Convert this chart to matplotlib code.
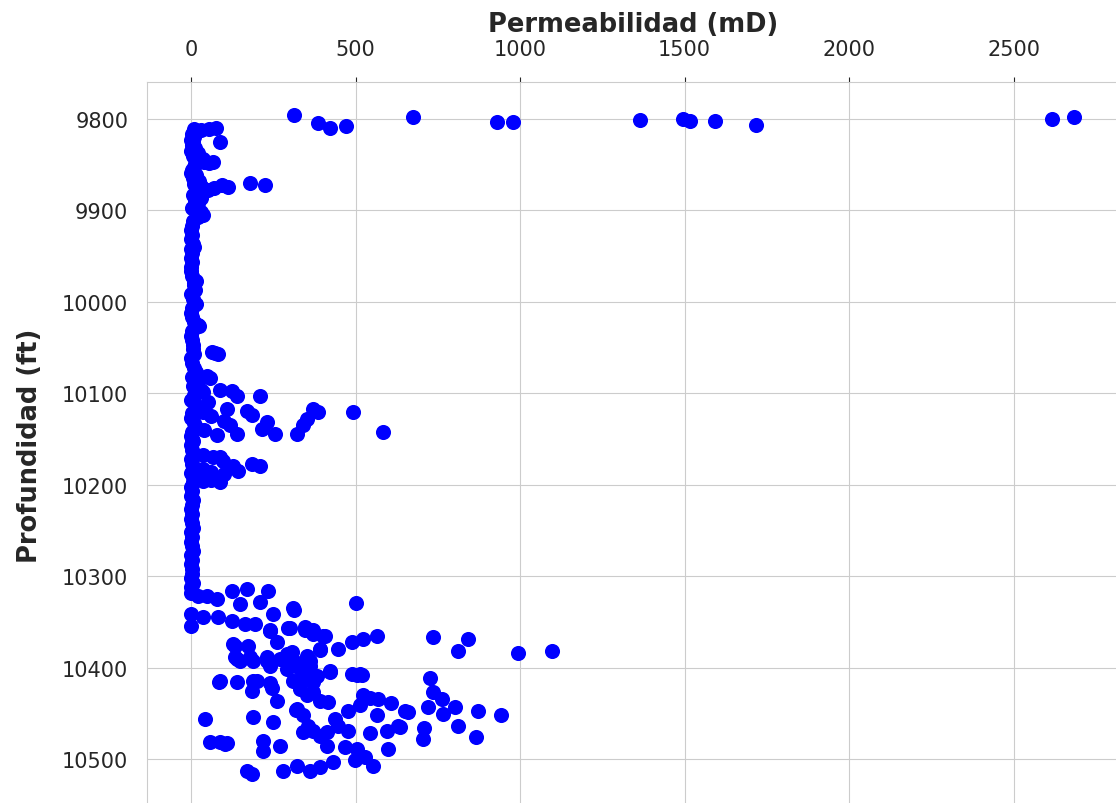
import numpy as np
import matplotlib
matplotlib.use("Agg")
import matplotlib.pyplot as plt
import seaborn as sns

# (profundidad ft, permeabilidad mD), por zona
tope = [(9796, 313), (9805, 386), (9810, 422), (9808, 471), (9798, 675),
        (9804, 930), (9804, 979), (9801, 1365), (9800, 1495), (9803, 1517),
        (9803, 1593), (9807, 1717), (9800, 2617), (9798, 2684)]

zona1 = [(9811, 8), (9812, 30), (9810, 75), (9811, 55), (9814, 15), (9817, 3),
         (9820, 10), (9823, 0), (9825, 88), (9826, 5), (9829, 2), (9832, 12),
         (9835, 0), (9838, 20), (9841, 6), (9844, 35), (9847, 67), (9847, 40),
         (9849, 55), (9850, 12), (9853, 8), (9856, 3), (9859, 0), (9862, 15),
         (9865, 5), (9868, 25), (9870, 179), (9871, 10), (9872, 225), (9873, 94),
         (9874, 30), (9875, 112), (9876, 70), (9877, 40), (9878, 50), (9880, 18),
         (9883, 5), (9886, 27), (9887, 30), (9889, 12), (9892, 20), (9895, 8),
         (9898, 3)]

zona2 = [(9902, 30), (9905, 35), (9907, 20), (9912, 5), (9917, 2), (9922, 0),
         (9927, 3), (9932, 1), (9937, 5), (9940, 8), (9942, 0), (9947, 2),
         (9952, 0), (9957, 4), (9962, 1), (9967, 0), (9972, 3), (9977, 14),
         (9980, 10), (9982, 8), (9987, 12), (9992, 0), (9997, 5), (10002, 15),
         (10007, 3), (10012, 0), (10017, 2), (10022, 8), (10025, 20), (10027, 25),
         (10032, 4), (10037, 0), (10042, 2), (10047, 6)]

zona3 = [(10052, 5), (10057, 10), (10062, 0), (10067, 3), (10072, 8), (10077, 15),
         (10082, 2), (10087, 20), (10092, 5), (10097, 30), (10102, 10), (10107, 0),
         (10112, 12), (10117, 25), (10122, 3), (10127, 0), (10132, 8), (10137, 15),
         (10142, 2), (10147, 0), (10152, 5), (10157, 0), (10162, 2), (10167, 8),
         (10172, 0), (10177, 3), (10182, 10), (10187, 0), (10192, 5),
         (10055, 64), (10057, 82), (10056, 72), (10081, 49), (10083, 58),
         (10097, 88), (10098, 125), (10103, 140), (10103, 210), (10099, 36),
         (10117, 109), (10119, 170), (10124, 185), (10131, 231), (10139, 216),
         (10146, 79), (10144, 140), (10135, 119), (10144, 255), (10144, 322),
         (10135, 340), (10128, 352), (10117, 371), (10120, 386), (10120, 492),
         (10142, 584), (10120, 36), (10150, 3), (10168, 36), (10170, 67),
         (10174, 97), (10179, 128), (10185, 143), (10177, 185), (10179, 210),
         (10183, 36), (10170, 88), (10110, 50), (10125, 60), (10140, 40),
         (10130, 100), (10186, 60), (10188, 100)]

zona4 = [(10196, 36), (10197, 88), (10195, 60), (10197, 5), (10202, 0),
         (10207, 3), (10212, 0), (10217, 5), (10222, 2), (10227, 0), (10232, 4),
         (10237, 0), (10242, 2), (10247, 5), (10252, 0), (10257, 3), (10262, 0),
         (10267, 2), (10272, 5), (10277, 0), (10282, 3), (10287, 0), (10292, 4),
         (10297, 2), (10302, 0), (10307, 5), (10312, 0), (10316, 3)]

zona5 = [(10321, 49), (10325, 79), (10316, 125), (10314, 170), (10316, 234),
         (10330, 149), (10328, 210), (10341, 249), (10335, 310), (10337, 313),
         (10329, 501), (10341, 0), (10354, 0), (10344, 36), (10344, 82),
         (10349, 125), (10352, 164), (10352, 195), (10360, 240), (10357, 295),
         (10355, 347), (10363, 371), (10365, 401), (10372, 261), (10374, 128),
         (10376, 173), (10390, 140), (10388, 179), (10393, 231), (10385, 292),
         (10396, 331), (10393, 362), (10381, 392), (10379, 447), (10372, 489),
         (10368, 523), (10365, 565), (10403, 422), (10407, 489), (10407, 514),
         (10414, 88), (10415, 140), (10414, 188), (10417, 240), (10414, 310),
         (10407, 352), (10366, 736), (10368, 842), (10382, 811), (10384, 994),
         (10382, 1097), (10411, 726), (10426, 736), (10434, 762), (10443, 720),
         (10450, 766), (10443, 802), (10447, 872), (10452, 942), (10464, 811),
         (10476, 866), (10466, 708), (10478, 705), (10448, 660), (10464, 629),
         (10469, 596), (10489, 599), (10471, 544), (10452, 565), (10438, 608),
         (10434, 568), (10430, 523), (10441, 514), (10447, 477), (10408, 505),
         (10408, 520), (10404, 422), (10437, 416), (10463, 447), (10469, 477),
         (10486, 468), (10489, 505), (10501, 498), (10497, 529), (10507, 553),
         (10503, 432), (10508, 392), (10513, 362), (10507, 322), (10513, 280),
         (10513, 170), (10516, 185), (10485, 271), (10491, 219), (10480, 219),
         (10481, 88), (10482, 109), (10481, 58), (10456, 43), (10454, 188),
         (10459, 249), (10446, 319), (10452, 340), (10463, 356), (10469, 371),
         (10474, 392), (10470, 413), (10470, 340), (10485, 413), (10456, 438),
         (10415, 85), (10425, 185), (10414, 201), (10422, 246), (10436, 261),
         (10423, 331), (10430, 353), (10414, 340), (10415, 371), (10398, 362),
         (10394, 316), (10383, 307), (10387, 353), (10379, 392), (10365, 407),
         (10359, 371), (10359, 347), (10357, 301), (10359, 240), (10376, 134),
         (10388, 134), (10393, 149), (10392, 188), (10388, 231), (10390, 271),
         (10398, 240), (10401, 292), (10401, 331), (10409, 383), (10426, 371),
         (10436, 392), (10483, 103), (10445, 322), (10465, 635), (10447, 650),
         (10433, 544), (10318, 0), (10322, 20)]

datos = np.array(tope + zona1 + zona2 + zona3 + zona4 + zona5)
profundidad = datos[:, 0]
permeabilidad = datos[:, 1]

sns.set_style("whitegrid")
plt.rcParams['font.family'] = ['DejaVu Sans']

fig = plt.figure(figsize=(11.16, 8.04), dpi=100)
ax = fig.add_axes([147 / 1116, -4 / 804, 972 / 1116, 725 / 804])
ax.scatter(permeabilidad, profundidad, s=118, color='blue', linewidths=0, zorder=3)
ax.set_xlim(-134, 2820)
ax.set_ylim(10552, 9760)

ax.xaxis.tick_top()
ax.xaxis.set_label_position('top')
ax.set_xlabel('Permeabilidad (mD)', fontsize=18.5, fontweight='bold', color='.15', labelpad=6)
ax.set_ylabel('Profundidad (ft)', fontsize=18.5, fontweight='bold', color='.15', labelpad=14)
ax.tick_params(axis='x', labelsize=15, pad=13, colors='.15')
ax.tick_params(axis='y', labelsize=15, pad=10, colors='.15')

fig.savefig('out.png', dpi=100)
